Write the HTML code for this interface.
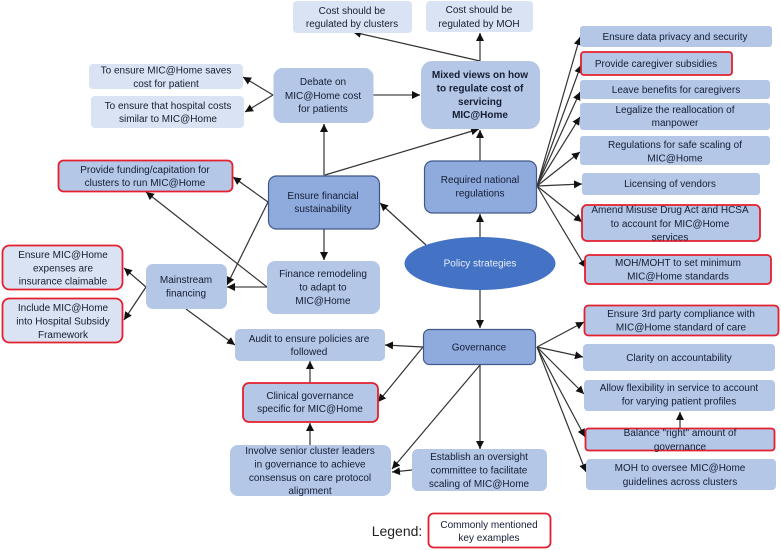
<!DOCTYPE html>
<html><head><meta charset="utf-8"><style>
html,body{margin:0;padding:0;background:#fff;width:781px;height:550px;overflow:hidden}
svg{display:block;filter:blur(0.35px)}
text{font-family:"Liberation Sans",sans-serif;font-size:10px;fill:#141d33;text-anchor:middle}
.l{fill:#dae3f3}.m{fill:#b4c7e7}.d{fill:#8faadc;stroke:#41598a;stroke-width:1.2}
.r{stroke:#e3202f;stroke-width:1.8}
.c line{stroke:#333;stroke-width:1.2;marker-end:url(#a)}
.g line{stroke:#666;stroke-width:1.6;marker-end:url(#a)}
</style></head><body>
<svg width="781" height="550" viewBox="0 0 781 550" xmlns="http://www.w3.org/2000/svg">
<defs><marker id="a" markerUnits="userSpaceOnUse" markerWidth="9" markerHeight="8" refX="8" refY="4" orient="auto"><path d="M0 0L8 4L0 8z" fill="#111"/></marker></defs>

<g class="g">
<line x1="324" y1="176" x2="324" y2="124"/>
<line x1="373" y1="95" x2="420" y2="95"/>
<line x1="480" y1="61" x2="480" y2="33"/>
<line x1="480" y1="161" x2="480" y2="130"/>
<line x1="480" y1="237" x2="480" y2="214"/>
<line x1="480" y1="290" x2="480" y2="328"/>
<line x1="324" y1="229" x2="324" y2="260"/>
<line x1="267" y1="287" x2="227" y2="287"/>
<line x1="480" y1="365" x2="480" y2="449"/>
</g>
<g class="c">
<line x1="273" y1="95" x2="243" y2="77"/>
<line x1="273" y1="95" x2="245" y2="112"/>
<line x1="325" y1="175" x2="479" y2="129"/>
<line x1="480" y1="61" x2="353" y2="32"/>
<line x1="426" y1="245" x2="380" y2="203"/>
<line x1="268" y1="202" x2="233" y2="177"/>
<line x1="268" y1="202" x2="227" y2="285"/>
<line x1="267" y1="287" x2="146" y2="192"/>
<line x1="146" y1="287" x2="124" y2="268"/>
<line x1="146" y1="287" x2="124" y2="320"/>
<line x1="186" y1="309" x2="235" y2="345"/>
<line x1="423" y1="347" x2="385" y2="345"/>
<line x1="423" y1="347" x2="378" y2="402"/>
<line x1="480" y1="365" x2="392" y2="469"/>
<line x1="412" y1="470" x2="392" y2="472"/>
<line x1="310" y1="445" x2="310" y2="423"/>
<line x1="310" y1="383" x2="310" y2="361"/>
<line x1="537" y1="186" x2="580" y2="37"/>
<line x1="537" y1="186" x2="581" y2="65"/>
<line x1="537" y1="186" x2="580" y2="92"/>
<line x1="537" y1="186" x2="580" y2="117"/>
<line x1="537" y1="186" x2="580" y2="152"/>
<line x1="537" y1="186" x2="582" y2="184"/>
<line x1="537" y1="186" x2="582" y2="222"/>
<line x1="537" y1="186" x2="586" y2="268"/>
<line x1="537" y1="347" x2="584" y2="322"/>
<line x1="537" y1="347" x2="583" y2="357"/>
<line x1="537" y1="347" x2="584" y2="394"/>
<line x1="537" y1="347" x2="585" y2="437"/>
<line x1="537" y1="347" x2="586" y2="472"/>
<line x1="680" y1="428" x2="680" y2="412"/>
</g>

<rect class="l" x="293" y="1" width="119" height="32" rx="4"/>
<rect class="l" x="426" y="1" width="107" height="31" rx="4"/>
<rect class="l" x="89" y="64" width="154" height="25" rx="4"/>
<rect class="l" x="91" y="96" width="153" height="32" rx="4"/>
<rect class="m" x="273.5" y="68" width="100" height="55" rx="9"/>
<rect class="m" x="421" y="61" width="119" height="68" rx="11"/>
<rect class="m r" x="58.5" y="160.5" width="174" height="31" rx="5"/>
<rect class="d" x="268.5" y="176" width="111" height="53" rx="8"/>
<rect class="d" x="424.5" y="161" width="112" height="52" rx="8"/>
<ellipse cx="480" cy="263.5" rx="75.5" ry="26.5" fill="#4472c4"/>
<rect class="m" x="267" y="261" width="113" height="53" rx="8"/>
<rect class="m" x="146" y="264" width="81" height="45" rx="7"/>
<rect class="l r" x="2.5" y="245.5" width="120" height="44" rx="7"/>
<rect class="l r" x="2.5" y="298.5" width="120" height="44" rx="7"/>
<rect class="m" x="235" y="329" width="150" height="32" rx="5"/>
<rect class="m r" x="243" y="383" width="135" height="39" rx="6"/>
<rect class="m" x="230" y="445" width="161" height="51" rx="8"/>
<rect class="d" x="423.5" y="329.5" width="112" height="35" rx="6"/>
<rect class="m" x="412" y="449" width="135" height="42" rx="6"/>
<rect class="m" x="580" y="26" width="192" height="21" rx="3"/>
<rect class="m r" x="581" y="52" width="151" height="23" rx="3"/>
<rect class="m" x="580" y="80" width="190" height="19" rx="3"/>
<rect class="m" x="580" y="103" width="190" height="27" rx="3"/>
<rect class="m" x="580" y="136" width="190" height="29" rx="3"/>
<rect class="m" x="582" y="173" width="178" height="22" rx="3"/>
<rect class="m r" x="582" y="205" width="178" height="36" rx="5"/>
<rect class="m r" x="585" y="255" width="186" height="29" rx="4"/>
<rect class="m r" x="584.5" y="305.5" width="194" height="30" rx="4"/>
<rect class="m" x="583" y="344" width="192" height="27" rx="4"/>
<rect class="m" x="584" y="380" width="191" height="31" rx="4"/>
<rect class="m r" x="585.5" y="428.5" width="189" height="22" rx="3"/>
<rect class="m" x="586" y="459" width="190" height="31" rx="4"/>
<rect x="428.5" y="513.5" width="122" height="34" rx="5" fill="#fff" class="r"/>

<text x="352" y="14">Cost should be</text><text x="352" y="27">regulated by clusters</text>
<text x="479" y="13">Cost should be</text><text x="479" y="27">regulated by MOH</text>
<text x="166" y="73.5">To ensure MIC@Home saves</text><text x="166" y="87">cost for patient</text>
<text x="168" y="109">To ensure that hospital costs</text><text x="168" y="122">similar to MIC@Home</text>
<text x="323" y="85">Debate on</text><text x="323" y="99">MIC@Home cost</text><text x="323" y="112">for patients</text>
<g style="font-weight:bold"><text x="480" y="78">Mixed views on how</text><text x="480" y="91.5">to regulate cost of</text><text x="480" y="105">servicing</text><text x="480" y="118">MIC@Home</text></g>
<text x="145" y="173">Provide funding/capitation for</text><text x="145" y="186">clusters to run MIC@Home</text>
<text x="323" y="199">Ensure financial</text><text x="323" y="212">sustainability</text>
<text x="480" y="183">Required national</text><text x="480" y="196.5">regulations</text>
<text x="480" y="266.5" style="fill:#eaf0fa">Policy strategies</text>
<text x="323" y="277">Finance remodeling</text><text x="323" y="290.5">to adapt to</text><text x="323" y="304">MIC@Home</text>
<text x="186" y="283">Mainstream</text><text x="186" y="296.5">financing</text>
<text x="63" y="258">Ensure MIC@Home</text><text x="63" y="271.5">expenses are</text><text x="63" y="284.5">insurance claimable</text>
<text x="63" y="311">Include MIC@Home</text><text x="63" y="324.5">into Hospital Subsidy</text><text x="63" y="338">Framework</text>
<text x="309" y="342">Audit to ensure policies are</text><text x="309" y="355">followed</text>
<text x="310" y="399">Clinical governance</text><text x="310" y="412">specific for MIC@Home</text>
<text x="310" y="454">Involve senior cluster leaders</text><text x="310" y="467.5">in governance to achieve</text><text x="310" y="481">consensus on care protocol</text><text x="310" y="494">alignment</text>
<text x="479" y="350.5">Governance</text>
<text x="479" y="460">Establish an oversight</text><text x="479" y="473.5">committee to facilitate</text><text x="479" y="487">scaling of MIC@Home</text>
<text x="675" y="40">Ensure data privacy and security</text>
<text x="656" y="67">Provide caregiver subsidies</text>
<text x="676" y="93">Leave benefits for caregivers</text>
<text x="675" y="113">Legalize the reallocation of</text><text x="675" y="126">manpower</text>
<text x="675" y="148">Regulations for safe scaling of</text><text x="675" y="161.5">MIC@Home</text>
<text x="670" y="187">Licensing of vendors</text>
<text x="670" y="213">Amend Misuse Drug Act and HCSA</text><text x="670" y="227">to account for MIC@Home</text><text x="670" y="240.5">services</text>
<text x="678" y="266">MOH/MOHT to set minimum</text><text x="678" y="279.5">MIC@Home standards</text>
<text x="681" y="317">Ensure 3rd party compliance with</text><text x="681" y="330.5">MIC@Home standard of care</text>
<text x="679" y="361">Clarity on accountability</text>
<text x="679" y="391">Allow flexibility in service to account</text><text x="679" y="404.5">for varying patient profiles</text>
<text x="680" y="436">Balance "right" amount of</text><text x="680" y="450">governance</text>
<text x="680" y="471">MOH to oversee MIC@Home</text><text x="680" y="485">guidelines across clusters</text>
<text x="489" y="528">Commonly mentioned</text><text x="489" y="541">key examples</text>
<text x="397" y="536" style="font-size:14px;fill:#222">Legend:</text>
</svg>
</body></html>
